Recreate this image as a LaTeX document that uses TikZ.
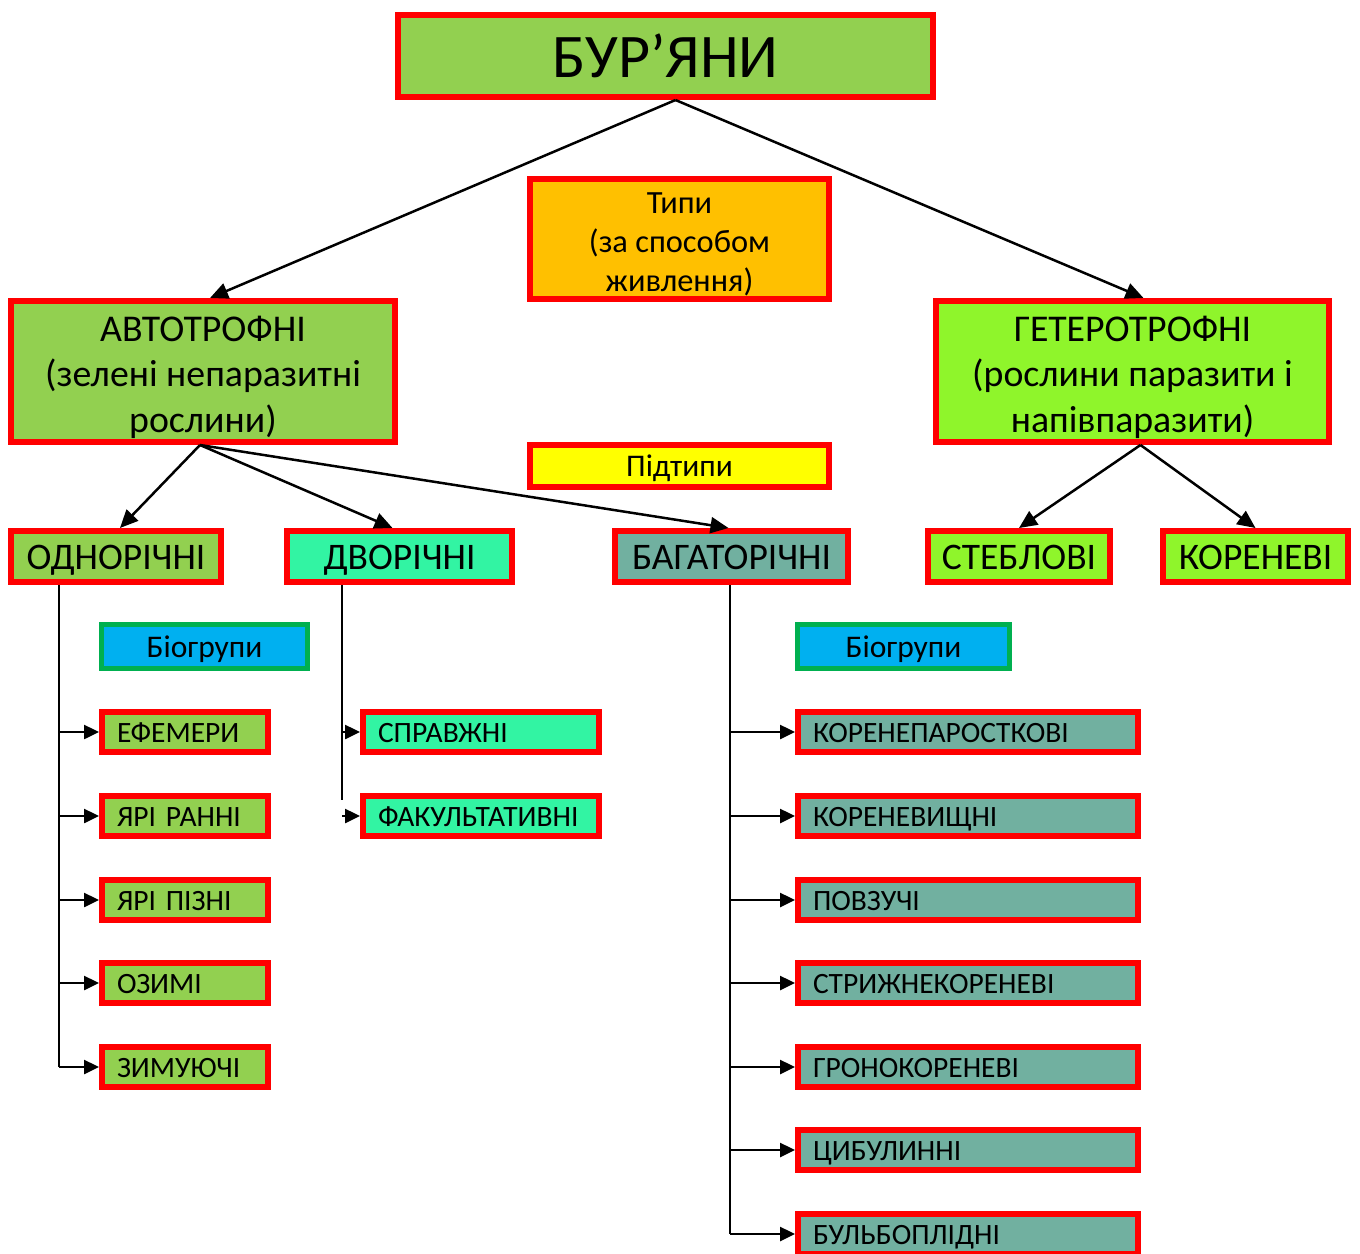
\documentclass[tikz,border=0pt]{standalone}
\usepackage{fontspec}
\setmainfont{Carlito}
\usetikzlibrary{arrows.meta}
\definecolor{gA}{HTML}{92D050}
\definecolor{gB}{HTML}{8FF52B}
\definecolor{aq}{HTML}{32F4A3}
\definecolor{tl}{HTML}{71B0A0}
\definecolor{bl}{HTML}{00B0F0}
\definecolor{bg}{HTML}{00B050}
\definecolor{og}{HTML}{FFC000}
\definecolor{yl}{HTML}{FFFF00}
\definecolor{rd}{HTML}{FF0000}
\tikzset{
  box/.style={draw=rd, line width=6pt, anchor=north west, inner sep=2pt, align=center},
  sub/.style={box, minimum height=51pt, text height=26pt, text depth=0pt, font=\fontsize{37.5}{40}\selectfont},
  lbox/.style={draw=rd, line width=6pt, anchor=north west, inner xsep=15pt, inner ysep=0pt, align=left, minimum height=40pt, text height=20pt, text depth=0pt, font=\fontsize{29.5}{32}\selectfont},
  bio/.style={draw=bg, line width=5pt, anchor=north west, fill=bl, inner sep=0pt, minimum height=44pt, text height=21pt, text depth=0pt, font=\fontsize{31.5}{34}\selectfont},
  arr/.style={line width=2.5pt, -{Triangle[length=18pt,width=16pt]}},
  sarr/.style={line width=2.5pt, -{Triangle[length=15pt,width=14pt]}},
  ln/.style={line width=2pt}
}
\begin{document}
\begin{tikzpicture}[x=1pt,y=-1pt]
\useasboundingbox (0,0) rectangle (1360,1253);
% top level
\node[box, fill=gA, minimum width=535pt, minimum height=82pt, font=\fontsize{62}{70}\selectfont] (bur) at (395,12) {БУР’ЯНИ};
\node[box, fill=og, minimum width=299pt, minimum height=120pt, font=\fontsize{32.4}{39}\selectfont] (tip) at (527,176) {\rule{0pt}{31pt}Типи\\(за способом\\живлення)};
\node[box, fill=gA, minimum width=384pt, minimum height=141pt, font=\fontsize{37.8}{45.5}\selectfont] (auto) at (8,298) {\rule{0pt}{37pt}АВТОТРОФНІ\\(зелені непаразитні\\рослини)};
\node[box, fill=gB, minimum width=393pt, minimum height=141pt, font=\fontsize{37.8}{45.5}\selectfont] (het) at (933,298) {\rule{0pt}{37pt}ГЕТЕРОТРОФНІ\\(рослини паразити і\\напівпаразити)};
\node[box, fill=yl, minimum width=299pt, minimum height=42pt, text height=21pt, text depth=0pt, font=\fontsize{31.5}{34}\selectfont] (pid) at (527,442) {Підтипи};
% subtypes
\node[sub, fill=gA, minimum width=210pt] (odn) at (8,528) {ОДНОРІЧНІ};
\node[sub, fill=aq, minimum width=225pt] (dvo) at (284,528) {ДВОРІЧНІ};
\node[sub, fill=tl, minimum width=233pt] (bag) at (612,528) {БАГАТОРІЧНІ};
\node[sub, fill=gB, minimum width=182pt] (ste) at (925,528) {СТЕБЛОВІ};
\node[sub, fill=gB, minimum width=185pt] (kor) at (1160,528) {КОРЕНЕВІ};
% biogroups
\node[bio, minimum width=206pt] (bioL) at (99,622) {Біогрупи};
\node[bio, minimum width=212pt] (bioR) at (795,622) {Біогрупи};
% left list
\node[lbox, fill=gA, text width=136pt] (efe) at (99,709) {ЕФЕМЕРИ};
\node[lbox, fill=gA, text width=136pt] (yar) at (99,793) {ЯРІ РАННІ};
\node[lbox, fill=gA, text width=136pt] (yap) at (99,877) {ЯРІ ПІЗНІ};
\node[lbox, fill=gA, text width=136pt] (ozy) at (99,960) {ОЗИМІ};
\node[lbox, fill=gA, text width=136pt] (zym) at (99,1044) {ЗИМУЮЧІ};
% middle list
\node[lbox, fill=aq, text width=206pt] (spr) at (360,709) {СПРАВЖНІ};
\node[lbox, fill=aq, text width=206pt] (fak) at (360,793) {ФАКУЛЬТАТИВНІ};
% right list
\node[lbox, fill=tl, text width=310pt] (r1) at (795,709) {КОРЕНЕПАРОСТКОВІ};
\node[lbox, fill=tl, text width=310pt] (r2) at (795,793) {КОРЕНЕВИЩНІ};
\node[lbox, fill=tl, text width=310pt] (r3) at (795,877) {ПОВЗУЧІ};
\node[lbox, fill=tl, text width=310pt] (r4) at (795,960) {СТРИЖНЕКОРЕНЕВІ};
\node[lbox, fill=tl, text width=310pt] (r5) at (795,1044) {ГРОНОКОРЕНЕВІ};
\node[lbox, fill=tl, text width=310pt] (r6) at (795,1127) {ЦИБУЛИННІ};
\node[lbox, fill=tl, text width=310pt] (r7) at (795,1211) {БУЛЬБОПЛІДНІ};
% main connectors
\draw[arr] ([xshift=10pt]bur.south) -- ([xshift=7pt]auto.north);
\draw[arr] ([xshift=10pt]bur.south) -- ([xshift=11pt]het.north);
\draw[arr] ([xshift=-3pt]auto.south) -- ([xshift=4pt]odn.north);
\draw[arr] ([xshift=-3pt]auto.south) -- ([xshift=-7pt]dvo.north);
\draw[arr] ([xshift=-3pt]auto.south) -- ([xshift=-3pt]bag.north);
\draw[arr] ([xshift=8pt]het.south) -- (ste.north);
\draw[arr] ([xshift=8pt]het.south) -- (kor.north);
% left trunk
\coordinate (tL) at (59,0);
\draw[ln] (odn.south -| tL) -- (zym.west -| tL);
\foreach \n in {efe,yar,yap,ozy,zym} \draw[sarr] (\n.west -| tL) -- (\n.west);
% middle trunk
\coordinate (tD) at (342,800);
\draw[ln] (dvo.south -| tD) -- (tD);
\foreach \n in {spr,fak} \draw[sarr] (\n.west -| tD) -- (\n.west);
% right trunk
\coordinate (tR) at (730,0);
\draw[ln] (bag.south -| tR) -- (r7.west -| tR);
\foreach \n in {r1,r2,r3,r4,r5,r6,r7} \draw[sarr] (\n.west -| tR) -- (\n.west);
\end{tikzpicture}
\end{document}
